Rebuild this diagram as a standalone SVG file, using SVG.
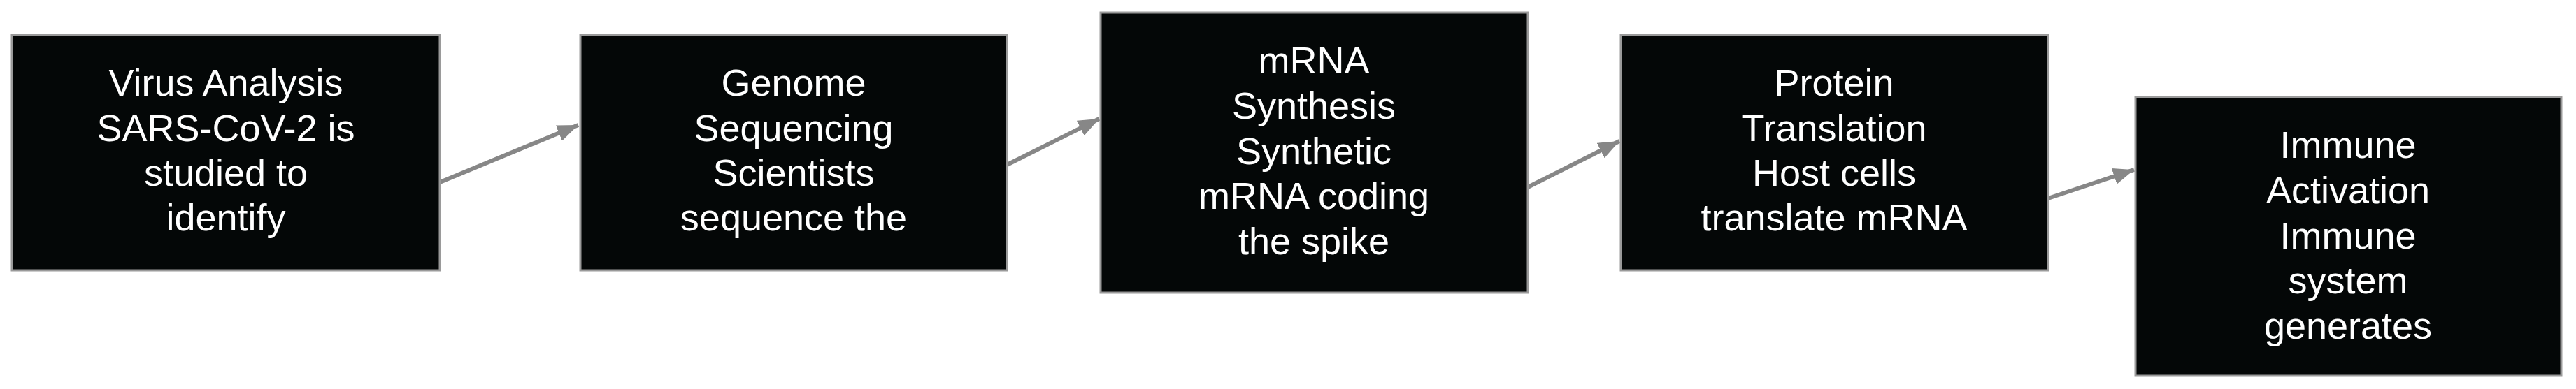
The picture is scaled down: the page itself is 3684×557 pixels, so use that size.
<svg xmlns="http://www.w3.org/2000/svg" width="3684" height="557" viewBox="0 0 3684 557">
<style>
.box{fill:#040707;stroke:#9a9a9a;stroke-width:3}
.lbl{font-family:"Liberation Sans",Arial,sans-serif;font-size:54px;fill:#ffffff;text-anchor:middle}
.conn{stroke:#878787;stroke-width:6;fill:none}
</style>
<defs>
<marker id="ah" markerUnits="userSpaceOnUse" markerWidth="32" markerHeight="24" refX="30" refY="12" orient="auto">
<path d="M0,0 L30,12 L0,24 z" fill="#878787"/>
</marker>
</defs>
<rect width="3684" height="557" fill="#ffffff"/>
<g id="connectors">
<line class="conn" x1="629" y1="261" x2="827" y2="179" marker-end="url(#ah)"/>
<line class="conn" x1="1440" y1="236" x2="1572" y2="170" marker-end="url(#ah)"/>
<line class="conn" x1="2185" y1="268" x2="2316" y2="202" marker-end="url(#ah)"/>
<line class="conn" x1="2929" y1="284" x2="3052" y2="243" marker-end="url(#ah)"/>
</g>
<g id="node1">
<rect class="box" x="17" y="50" width="612" height="337"/>
<text class="lbl" x="323"><tspan x="323" y="137">Virus Analysis</tspan><tspan x="323" y="202">SARS-CoV-2 is</tspan><tspan x="323" y="266">studied to</tspan><tspan x="323" y="330">identify</tspan></text>
</g>
<g id="node2">
<rect class="box" x="830" y="50" width="610" height="337"/>
<text class="lbl" x="1135"><tspan x="1135" y="137">Genome</tspan><tspan x="1135" y="202">Sequencing</tspan><tspan x="1135" y="266">Scientists</tspan><tspan x="1135" y="330">sequence the</tspan></text>
</g>
<g id="node3">
<rect class="box" x="1574" y="18" width="611" height="401"/>
<text class="lbl" x="1879"><tspan x="1879" y="105">mRNA</tspan><tspan x="1879" y="170">Synthesis</tspan><tspan x="1879" y="235">Synthetic</tspan><tspan x="1879" y="299">mRNA coding</tspan><tspan x="1879" y="364">the spike</tspan></text>
</g>
<g id="node4">
<rect class="box" x="2318" y="50" width="611" height="337"/>
<text class="lbl" x="2623"><tspan x="2623" y="137">Protein</tspan><tspan x="2623" y="202">Translation</tspan><tspan x="2623" y="266">Host cells</tspan><tspan x="2623" y="330">translate mRNA</tspan></text>
</g>
<g id="node5">
<rect class="box" x="3054" y="139" width="609" height="399"/>
<text class="lbl" x="3358"><tspan x="3358" y="226">Immune</tspan><tspan x="3358" y="291">Activation</tspan><tspan x="3358" y="356">Immune</tspan><tspan x="3358" y="420">system</tspan><tspan x="3358" y="485">generates</tspan></text>
</g>
</svg>
